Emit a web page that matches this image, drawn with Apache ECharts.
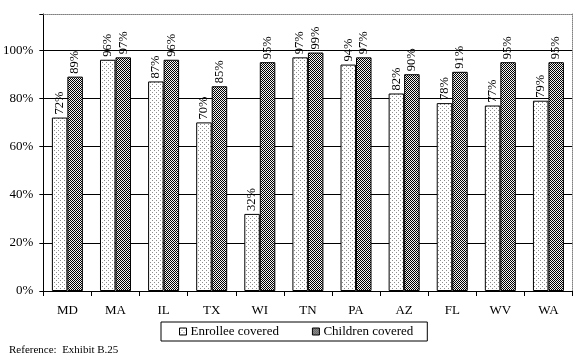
<!DOCTYPE html>
<html>
<head>
<meta charset="utf-8">
<script src="https://cdn.jsdelivr.net/npm/echarts@6/dist/echarts.min.js"></script>
<style>
html,body{margin:0;padding:0;background:#fff;}
#c{width:587px;height:359px;}
</style>
</head>
<body>
<div id="c"></div>
<script>
const categories = ['MD','MA','IL','TX','WI','TN','PA','AZ','FL','WV','WA'];
const enrollee = [72,96,87,70,32,97,94,82,78,77,79];
const children = [89,97,96,85,95,99,97,90,91,95,95];
const seriesNames = ['Enrollee covered','Children covered'];
const yTicks = [0,20,40,60,80,100];

function makePattern(kind){
  const c = document.createElement('canvas');
  if(kind==='dots'){
    c.width=4;c.height=4;
    const g=c.getContext('2d');
    g.fillStyle='#ffffff';g.fillRect(0,0,4,4);
    g.fillStyle='#8c8c8c';
    g.fillRect(0,0,1,1);g.fillRect(2,2,1,1);
  } else {
    c.width=2;c.height=2;
    const g=c.getContext('2d');
    g.fillStyle='#f4f4f4';g.fillRect(0,0,2,2);
    g.fillStyle='#000000';
    g.fillRect(0,0,1,1);g.fillRect(1,1,1,1);
  }
  return {image:c, repeat:'repeat'};
}

const FONT = '"Liberation Serif","Times New Roman",serif';
const chart = echarts.init(document.getElementById('c'), null, {renderer:'canvas'});
const labelCfg = {
  show:true, position:'top', rotate:90, align:'left', verticalAlign:'middle',
  distance:3, fontFamily:FONT, fontSize:12.5, color:'#000', formatter:'{c}%'
};
chart.setOption({
  animation:false,
  backgroundColor:'#fff',
  textStyle:{fontFamily:FONT},
  grid:{left:42.5, right:14.5, top:14, bottom:68, containLabel:false},
  legend:{
    data:seriesNames, left:161, top:322, orient:'horizontal', icon:'rect',
    borderColor:'#000', borderWidth:1, padding:[3,14,3,18],
    itemWidth:7, itemHeight:7, itemGap:33,
    textStyle:{fontFamily:FONT, fontSize:13, color:'#000', padding:[0,0,0,-1]},
    itemStyle:{borderColor:'#000', borderWidth:1}
  },
  xAxis:[{
    type:'category', data:categories, position:'bottom',
    axisLine:{lineStyle:{color:'#000', width:1}},
    axisTick:{show:true, length:5, lineStyle:{color:'#000'}},
    axisLabel:{fontFamily:FONT, fontSize:13, color:'#000', margin:13}
  },{
    type:'category', data:categories, position:'top',
    axisLine:{show:true, onZero:false, lineStyle:{color:'#808080', type:'dotted', width:1}},
    axisTick:{show:false}, axisLabel:{show:false}, splitLine:{show:false}
  }],
  yAxis:[{
    type:'value', min:0, max:115, interval:20, position:'left',
    axisLine:{show:true, lineStyle:{color:'#000'}},
    axisTick:{show:true, length:4, lineStyle:{color:'#000'}},
    axisLabel:{fontFamily:FONT, fontSize:13, color:'#000', margin:10,
      formatter:function(v){ return yTicks.indexOf(v)>=0 ? v+'%' : ''; }},
    splitLine:{show:true, showMaxLine:false, lineStyle:{color:'#000', width:1}}
  },{
    type:'value', min:0, max:115, interval:20, position:'right',
    axisLine:{show:true, onZero:false, lineStyle:{color:'#808080', type:'dotted'}},
    axisTick:{show:false}, axisLabel:{show:false}, splitLine:{show:false}
  }],
  series:[{
    name:seriesNames[0], type:'bar', data:enrollee, barWidth:15.5, barGap:'0%',
    itemStyle:{color:makePattern('dots'), borderColor:'#000', borderWidth:1},
    label:labelCfg
  },{
    name:seriesNames[1], type:'bar', data:children, barWidth:15.5, barGap:'0%',
    itemStyle:{color:makePattern('check'), borderColor:'#000', borderWidth:1},
    label:labelCfg
  }],
  graphic:[{
    type:'text', left:9, top:345,
    style:{text:'Reference:  Exhibit B.25', font:'11px '+FONT, fill:'#000'}
  }]
});
</script>
</body>
</html>
